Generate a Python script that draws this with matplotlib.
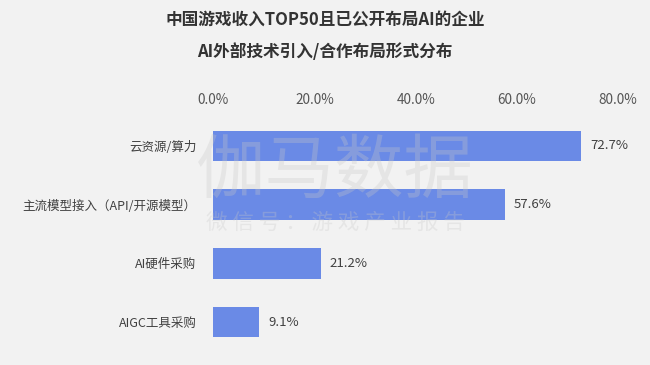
import matplotlib
matplotlib.use("Agg")
import matplotlib.pyplot as plt
from matplotlib.ticker import FuncFormatter

plt.rcParams['font.family'] = ['Noto Sans CJK SC', 'DejaVu Sans']

categories = ["云资源/算力", "主流模型接入（API/开源模型）", "AI硬件采购", "AIGC工具采购"]
values = [72.7, 57.6, 21.2, 9.1]
ticks = [0, 20, 40, 60, 80]
title = "中国游戏收入TOP50且已公开布局AI的企业\nAI外部技术引入/合作布局形式分布"

bg = "#f2f2f2"
fig = plt.figure(figsize=(6.5, 3.65), dpi=100, facecolor=bg)
ax = fig.add_axes([0.328, 0.037, 0.623, 0.644])
ax.set_facecolor(bg)

ypos = list(range(len(categories)))
ax.barh(ypos, values, height=0.52, color="#6a8ae6", zorder=3)
ax.set_ylim(len(categories) - 0.5, -0.5)
ax.set_xlim(0, 80)
ax.set_yticks(ypos)
ax.set_yticklabels(categories, fontsize=9, color="#404040")
ax.set_xticks(ticks)
ax.xaxis.set_major_formatter(FuncFormatter(lambda v, p: f"{v:.1f}%"))
ax.xaxis.tick_top()
ax.tick_params(axis='x', length=0, labelsize=9.8, labelcolor="#555555", pad=7)
ax.tick_params(axis='y', length=0, pad=12)
for s in ax.spines.values():
    s.set_visible(False)

for y, v in zip(ypos, values):
    ax.text(v + 1.8, y, f"{v}%", va="center", ha="left", fontsize=9.5, color="#404040", zorder=4)

fig.text(0.5, 0.9, title, ha="center", va="center", fontsize=12, fontweight="bold",
         color="#333333", linespacing=1.95)

# watermark
fig.text(0.516, 0.53, "伽马数据", ha="center", va="center", fontsize=50, color="#c8c8c8",
         alpha=0.3, zorder=0)
fig.text(0.516, 0.39, "微 信 号 ： 游 戏 产 业 报 告", ha="center", va="center", fontsize=15.5,
         color="#c8c8c8", alpha=0.3, zorder=0)

fig.savefig("out.png", dpi=100, facecolor=bg)
